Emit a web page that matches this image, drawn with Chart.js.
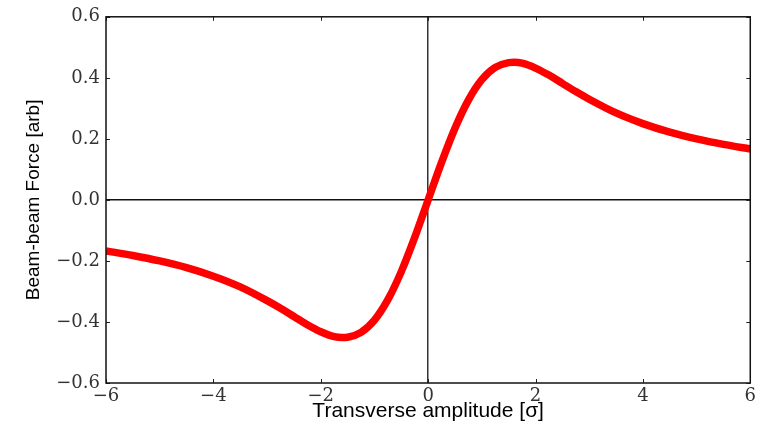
<!DOCTYPE html>
<html>
<head>
<meta charset="utf-8">
<script src="https://cdn.jsdelivr.net/npm/chart.js@4"></script>
<style>
  html, body { margin: 0; padding: 0; background: #fff; }
  #wrap { width: 759px; height: 422px; }
</style>
</head>
<body>
<div id="wrap"><canvas id="chartCanvas"></canvas></div>
<script>
// Transverse amplitude (sigma) and force values
const amplitude = [-6, -5.5, -5, -4.5, -4, -3.5, -3, -2.75, -2.5, -2.25, -2, -1.75, -1.6, -1.5, -1.25, -1, -0.75, -0.5, -0.25, 0,
  0.25, 0.5, 0.75, 1, 1.25, 1.5, 1.6, 1.75, 2, 2.25, 2.5, 2.75, 3, 3.5, 4, 4.5, 5, 5.5, 6];
const force = [-0.167, -0.182, -0.200, -0.222, -0.250, -0.285, -0.330, -0.355, -0.382, -0.409, -0.432, -0.448, -0.451, -0.450, -0.434, -0.394, -0.327, -0.235, -0.123, 0,
  0.123, 0.235, 0.327, 0.394, 0.434, 0.450, 0.451, 0.448, 0.432, 0.409, 0.382, 0.355, 0.330, 0.285, 0.250, 0.222, 0.200, 0.182, 0.167];
const xTicks = [-6, -4, -2, 0, 2, 4, 6];
const yTicks = [-0.6, -0.4, -0.2, 0.0, 0.2, 0.4, 0.6];

const minus = s => s.replace("-", "\u2212");

// frame and inward ticks on all four sides
const framePlugin = {
  id: "frame",
  afterDraw(chart) {
    const { ctx, chartArea: a, scales } = chart;
    ctx.save();
    ctx.strokeStyle = "#222";
    ctx.lineWidth = 1;
    const len = 4;
    xTicks.forEach(v => {
      const px = Math.round(scales.x.getPixelForValue(v)) + 0.5;
      ctx.beginPath();
      ctx.moveTo(px, a.bottom); ctx.lineTo(px, a.bottom - len);
      ctx.moveTo(px, a.top); ctx.lineTo(px, a.top + len);
      ctx.stroke();
    });
    yTicks.forEach(v => {
      const py = Math.round(scales.y.getPixelForValue(v)) + 0.5;
      ctx.beginPath();
      ctx.moveTo(a.left, py); ctx.lineTo(a.left + len, py);
      ctx.moveTo(a.right, py); ctx.lineTo(a.right - len, py);
      ctx.stroke();
    });
    ctx.lineWidth = 1.5;
    ctx.strokeStyle = "#111";
    ctx.strokeRect(a.left, a.top, a.right - a.left, a.bottom - a.top);
    ctx.restore();
  }
};

const serif = { family: "'DejaVu Serif', 'Liberation Serif', serif", size: 18 };

new Chart(document.getElementById("chartCanvas"), {
  type: "scatter",
  data: {
    datasets: [{
      data: amplitude.map((x, i) => ({ x: x, y: force[i] })),
      showLine: true,
      borderColor: "#ff0000",
      borderWidth: 7.5,
      pointRadius: 0,
      tension: 0.4,
      cubicInterpolationMode: "monotone",
      borderCapStyle: "butt"
    }]
  },
  options: {
    responsive: true,
    maintainAspectRatio: false,
    animation: false,
    layout: { padding: { left: 18, right: 8, top: 15, bottom: 0 } },
    plugins: { legend: { display: false }, tooltip: { enabled: false } },
    scales: {
      x: {
        type: "linear",
        min: -6, max: 6,
        afterFit(s) { s.height = 39; },
        afterBuildTicks(s) { s.ticks = xTicks.map(v => ({ value: v })); },
        border: { display: false },
        grid: {
          drawTicks: false,
          lineWidth: 1.5,
          color: c => (c.tick && c.tick.value === 0 ? "#333" : "rgba(0,0,0,0)")
        },
        ticks: {
          padding: 3,
          color: "#333",
          font: serif,
          callback: v => minus(String(v))
        },
        title: {
          display: true,
          text: "Transverse amplitude [\u03c3]",
          color: "#000",
          font: { family: "'Liberation Sans', Arial, sans-serif", size: 21, lineHeight: 1.0 },
          padding: { top: 0, bottom: 0 }
        }
      },
      y: {
        min: -0.6, max: 0.6,
        afterFit(s) { s.width = 88; },
        afterBuildTicks(s) { s.ticks = yTicks.map(v => ({ value: v })); },
        border: { display: false },
        grid: {
          drawTicks: false,
          lineWidth: 1.5,
          color: c => (c.tick && Math.abs(c.tick.value) < 1e-9 ? "#111" : "rgba(0,0,0,0)")
        },
        ticks: {
          padding: 6,
          color: "#333",
          font: serif,
          callback: v => minus(Number(v).toFixed(1))
        },
        title: {
          display: true,
          text: "Beam-beam Force [arb]",
          color: "#000",
          font: { family: "'Liberation Sans', Arial, sans-serif", size: 19 },
          padding: 4
        }
      }
    }
  },
  plugins: [framePlugin]
});
</script>
</body>
</html>
